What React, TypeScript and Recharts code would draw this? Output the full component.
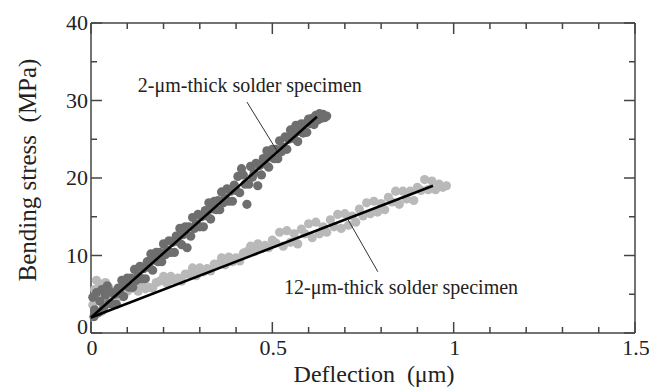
import {
  ComposedChart,
  Scatter,
  XAxis,
  YAxis,
  ReferenceDot,
} from "recharts";

// 2-um-thick specimen (dark points)
const thin2x = [
  0.005, 0.008, 0.01, 0.015, 0.02, 0.025, 0.03, 0.035, 0.04, 0.045, 0.05,
  0.055, 0.06, 0.065, 0.07, 0.075, 0.08, 0.085, 0.09, 0.095, 0.1,
  0.105, 0.11, 0.115, 0.12, 0.125, 0.13, 0.135, 0.14, 0.145, 0.15,
  0.155, 0.16, 0.165, 0.17, 0.175, 0.18, 0.185, 0.19, 0.195, 0.2,
  0.205, 0.21, 0.215, 0.22, 0.225, 0.23, 0.235, 0.24, 0.245, 0.25,
  0.255, 0.26, 0.265, 0.27, 0.275, 0.28, 0.285, 0.29, 0.295, 0.3,
  0.305, 0.31, 0.315, 0.32, 0.325, 0.33, 0.335, 0.34, 0.345, 0.35,
  0.355, 0.36, 0.365, 0.37, 0.375, 0.38, 0.385, 0.39, 0.395, 0.4,
  0.405, 0.41, 0.415, 0.42, 0.425, 0.43, 0.435, 0.44, 0.445, 0.45,
  0.455, 0.46, 0.465, 0.47, 0.475, 0.48, 0.485, 0.49, 0.495, 0.5,
  0.505, 0.51, 0.515, 0.52, 0.525, 0.53, 0.535, 0.54, 0.545, 0.55,
  0.555, 0.56, 0.565, 0.57, 0.575, 0.58, 0.585, 0.59, 0.595, 0.6,
  0.605, 0.61, 0.615, 0.62, 0.625, 0.63, 0.635, 0.64, 0.645, 0.65,
];
const thin2y = [
  4.6, 2.1, 3.0, 5.2, 2.6, 4.1, 5.6, 3.3, 4.9, 6.1, 3.8,
  5.3, 3.7, 5.0, 3.7, 5.8, 5.1, 6.8, 4.7, 6.1, 7.1,
  5.9, 7.1, 5.9, 8.2, 6.8, 7.4, 8.6, 7.0, 8.3, 7.0,
  9.2, 8.5, 10.2, 8.1, 9.4, 10.4, 9.2, 10.4, 9.2, 11.5,
  10.1, 10.7, 11.9, 10.4, 11.7, 10.4, 12.5, 11.8, 13.5, 11.4,
  12.7, 13.7, 11.0, 13.7, 12.5, 14.9, 13.5, 14.1, 15.3, 13.7,
  15.0, 13.7, 15.8, 15.1, 16.8, 14.7, 16.0, 17.0, 15.9, 17.1,
  15.9, 18.2, 16.8, 17.4, 18.6, 17.0, 18.3, 17.0, 19.1, 18.4,
  20.2, 18.1, 21.2, 20.4, 19.2, 16.6, 19.2, 21.5, 20.1, 20.7,
  21.9, 19.0, 21.6, 20.4, 22.5, 21.8, 23.5, 21.4, 22.7, 23.7,
  22.5, 23.7, 22.5, 24.8, 23.4, 24.0, 25.3, 23.7, 25.0, 26.2,
  25.8, 25.1, 26.8, 24.7, 26.0, 27.0, 25.8, 27.0, 25.9, 27.6,
  27.0, 27.7, 26.9, 28.1, 27.5, 28.3, 27.7, 28.2, 27.8, 28.0,
];

// 12-um-thick specimen (light points)
const thick12x = [
  0.005, 0.01, 0.015, 0.02, 0.025, 0.03, 0.035, 0.04, 0.045, 0.05,
  0.06, 0.07, 0.08, 0.09, 0.1, 0.11, 0.12, 0.13, 0.14, 0.15,
  0.16, 0.17, 0.18, 0.19, 0.2, 0.21, 0.22, 0.23, 0.24, 0.25,
  0.26, 0.27, 0.28, 0.29, 0.3, 0.31, 0.32, 0.33, 0.34, 0.35,
  0.36, 0.37, 0.38, 0.39, 0.4, 0.41, 0.42, 0.43, 0.44, 0.45,
  0.46, 0.47, 0.48, 0.49, 0.5, 0.51, 0.52, 0.53, 0.54, 0.55,
  0.56, 0.57, 0.58, 0.59, 0.6, 0.61, 0.62, 0.63, 0.64, 0.65,
  0.66, 0.67, 0.68, 0.69, 0.7, 0.71, 0.72, 0.73, 0.74, 0.75,
  0.76, 0.77, 0.78, 0.79, 0.8, 0.81, 0.82, 0.83, 0.84, 0.85,
  0.86, 0.87, 0.88, 0.89, 0.9, 0.91, 0.92, 0.93, 0.94, 0.95,
  0.96, 0.97, 0.98,
];
const thick12y = [
  3.6, 5.6, 6.8, 4.2, 6.3, 2.8, 5.0, 6.5, 4.4, 5.8,
  4.7, 4.7, 4.7, 4.8, 5.4, 5.7, 6.0, 5.4, 6.2, 5.7,
  5.9, 5.8, 6.5, 6.7, 7.3, 6.4, 7.3, 6.8, 7.1, 6.7,
  7.6, 7.6, 8.4, 7.4, 8.4, 7.9, 8.3, 8.0, 8.9, 8.9,
  9.7, 8.8, 9.8, 9.2, 9.7, 9.3, 10.3, 10.5, 11.2, 10.5,
  11.5, 10.9, 11.3, 11.0, 12.0, 11.6, 13.0, 11.2, 13.2, 11.7,
  12.8, 11.5, 13.4, 12.8, 14.1, 12.3, 14.3, 12.8, 13.7, 13.0,
  14.6, 13.7, 15.3, 13.5, 15.4, 13.9, 15.1, 14.3, 16.0, 15.1,
  16.8, 15.4, 17.0, 15.6, 16.7, 15.9, 17.5, 16.9, 18.3, 16.6,
  18.3, 17.3, 18.3, 17.1, 18.8, 18.4, 19.8, 18.5, 19.6, 18.5,
  19.2, 18.8, 19.0,
];

// linear fits (start / end)
const fit2 = [{ x: 0, y: 2 }, { x: 0.623, y: 27.9 }];
const fit12 = [{ x: 0, y: 2 }, { x: 0.943, y: 19 }];

// annotation leader lines
const leader2 = [{ x: 0.43, y: 29.8 }, { x: 0.513, y: 23.5 }];
const leader12 = [{ x: 0.709, y: 14.6 }, { x: 0.791, y: 7.9 }];

const xMajor = [0, 0.5, 1, 1.5];
const xTicks = [
  0, 0.1, 0.2, 0.3, 0.4, 0.5, 0.6, 0.7, 0.8, 0.9, 1, 1.1, 1.2, 1.3, 1.4, 1.5,
];
const yMajor = [0, 10, 20, 30, 40];
const yTicks = [0, 5, 10, 15, 20, 25, 30, 35, 40];

const thin2 = thin2x.map((x, i) => ({ x, y: thin2y[i] }));
const thick12 = thick12x.map((x, i) => ({ x, y: thick12y[i] }));

// inward tick marks on all four sides, placed through the scales
const bottomMarks = xTicks.map((x) => ({ x, y: 0, major: xMajor.includes(x) }));
const topMarks = xTicks.map((x) => ({ x, y: 40, major: xMajor.includes(x) }));
const leftMarks = yTicks.map((y) => ({ x: 0, y, major: yMajor.includes(y) }));
const rightMarks = yTicks.map((y) => ({ x: 1.5, y, major: yMajor.includes(y) }));

const FONT = "'Liberation Serif', 'Times New Roman', serif";
const AXIS = "#444";
const TS = 0.001;

// @ts-ignore
const BottomLabel = (props) => {
  const { x, y, payload } = props;
  if (!xMajor.includes(payload.value)) return <g />;
  return (
    <text x={x + 1} y={y + 22} textAnchor="middle" fontSize={22} fontFamily={FONT} fill="#222">
      {payload.value}
    </text>
  );
};

// @ts-ignore
const LeftLabel = (props) => {
  const { x, y, payload } = props;
  if (!yMajor.includes(payload.value)) return <g />;
  return (
    <text
      x={x - 3}
      y={y + 7 - (payload.value === 0 ? 6 : 0)}
      textAnchor="end"
      fontSize={22}
      fontFamily={FONT}
      fill="#222"
    >
      {payload.value}
    </text>
  );
};

// @ts-ignore
const YTitle = (props) => {
  const vb = props.viewBox;
  const cy = vb.y + vb.height / 2 - 8;
  return (
    <text
      transform={`translate(27, ${cy}) rotate(-90)`}
      textAnchor="middle"
      dominantBaseline="central"
      fontSize={25}
      fontFamily={FONT}
      fill="#222"
    >
      {"Bending stress\u00a0\u00a0(MPa)"}
    </text>
  );
};

const noTick = () => <g />;

// dx, dy: direction of the tick into the plot
const mark = (dx: number, dy: number) =>
  // @ts-ignore
  (p) => {
    const len = p.payload && p.payload.major ? 11 : 6;
    return (
      <line
        x1={p.cx}
        y1={p.cy}
        x2={p.cx + dx * len}
        y2={p.cy + dy * len}
        stroke={AXIS}
        strokeWidth={1.5}
      />
    );
  };

// @ts-ignore
const dot = (fill: string) => (p) => <circle cx={p.cx} cy={p.cy} r={4.6} fill={fill} />;

const noDot = () => <g />;

// @ts-ignore
const note = (text: string) => (p) => (
  <text x={p.cx} y={p.cy + 6} textAnchor="middle" fontSize={20} fontFamily={FONT} fill="#222">
    {text}
  </text>
);

export default function App() {
  return (
    <div style={{ position: "absolute", left: 0, top: 0, background: "#fff" }}>
      <ComposedChart
        width={649}
        height={390}
        margin={{ top: 22, right: 13, bottom: 0, left: 0 }}
      >
        <XAxis
          xAxisId="x"
          dataKey="x"
          type="number"
          domain={[0, 1.5]}
          ticks={xTicks}
          interval={0}
          height={57}
          tickSize={TS}
          tickMargin={TS}
          tickLine={false}
          tick={BottomLabel}
          stroke={AXIS}
          strokeWidth={1.5}
          label={{
            value: "Deflection\u00a0\u00a0(\u03bcm)",
            position: "insideBottom",
            offset: 8,
            dx: 11,
            style: { fontSize: 24, fontFamily: FONT, fill: "#222" },
          }}
        />
        <XAxis
          xAxisId="xt"
          dataKey="x"
          orientation="top"
          type="number"
          domain={[0, 1.5]}
          ticks={xTicks}
          height={1}
          tickLine={false}
          tick={noTick}
          stroke={AXIS}
          strokeWidth={1.5}
        />
        <YAxis
          yAxisId="y"
          dataKey="y"
          type="number"
          domain={[0, 40]}
          ticks={yTicks}
          interval={0}
          width={91}
          tickSize={TS}
          tickMargin={TS}
          tickLine={false}
          tick={LeftLabel}
          stroke={AXIS}
          strokeWidth={1.5}
          label={{ content: YTitle }}
        />
        <YAxis
          yAxisId="yr"
          dataKey="y"
          orientation="right"
          type="number"
          domain={[0, 40]}
          ticks={yTicks}
          width={1}
          tickLine={false}
          tick={noTick}
          stroke={AXIS}
          strokeWidth={1.5}
        />
        <Scatter xAxisId="x" yAxisId="y" data={bottomMarks} shape={mark(0, -1)} isAnimationActive={false} />
        <Scatter xAxisId="x" yAxisId="y" data={topMarks} shape={mark(0, 1)} isAnimationActive={false} />
        <Scatter xAxisId="x" yAxisId="y" data={leftMarks} shape={mark(1, 0)} isAnimationActive={false} />
        <Scatter xAxisId="x" yAxisId="y" data={rightMarks} shape={mark(-1, 0)} isAnimationActive={false} />
        <Scatter xAxisId="x" yAxisId="y" data={thick12} shape={dot("#b9b9b9")} isAnimationActive={false} />
        <Scatter xAxisId="x" yAxisId="y" data={thin2} shape={dot("#6e6e6e")} isAnimationActive={false} />
        <Scatter
          xAxisId="x"
          yAxisId="y"
          data={fit2}
          line={{ stroke: "#000", strokeWidth: 2.5 }}
          shape={noDot}
          isAnimationActive={false}
        />
        <Scatter
          xAxisId="x"
          yAxisId="y"
          data={fit12}
          line={{ stroke: "#000", strokeWidth: 2.5 }}
          shape={noDot}
          isAnimationActive={false}
        />
        <Scatter
          xAxisId="x"
          yAxisId="y"
          data={leader2}
          line={{ stroke: "#333", strokeWidth: 1 }}
          shape={noDot}
          isAnimationActive={false}
        />
        <Scatter
          xAxisId="x"
          yAxisId="y"
          data={leader12}
          line={{ stroke: "#333", strokeWidth: 1 }}
          shape={noDot}
          isAnimationActive={false}
        />
        <ReferenceDot xAxisId="x" yAxisId="y" x={0.438} y={31.9} shape={note("2-\u03bcm-thick solder specimen")} />
        <ReferenceDot xAxisId="x" yAxisId="y" x={0.855} y={5.8} shape={note("12-\u03bcm-thick solder specimen")} />
      </ComposedChart>
    </div>
  );
}
